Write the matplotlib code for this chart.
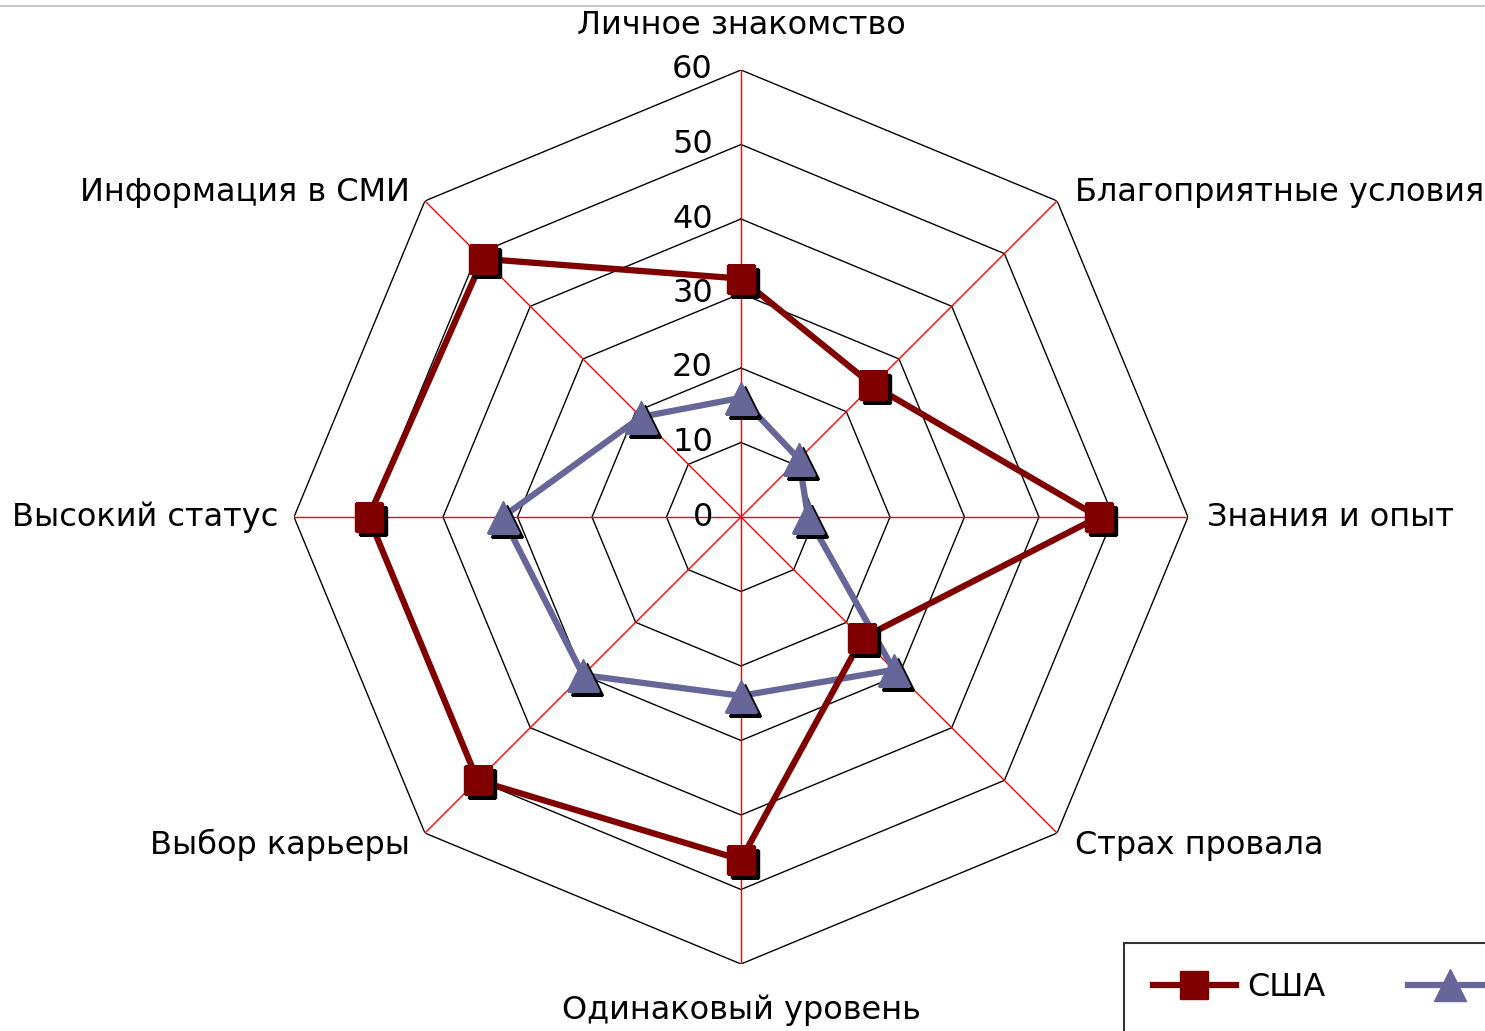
import numpy as np
import matplotlib
matplotlib.use("Agg")
import matplotlib.pyplot as plt
from matplotlib import transforms
from matplotlib.lines import Line2D

categories = ["Личное знакомство", "Благоприятные условия", "Знания и опыт",
              "Страх провала", "Одинаковый уровень", "Выбор карьеры",
              "Высокий статус", "Информация в СМИ"]
usa = [32, 25, 48, 23, 46, 50, 50, 49]
other = [16, 11, 9, 29, 24, 30, 32, 19]
series_names = ["США", "Россия"]
rings = [10, 20, 30, 40, 50, 60]
tick_labels = [0, 10, 20, 30, 40, 50, 60]

# label offsets in pixels from the outer vertex, plus alignment
label_pos = [(0, 45, "center"), (18, 8, "left"), (19, 0, "left"), (18, -12, "left"),
             (0, -46, "center"), (-15, -12, "right"), (-16, 0, "right"), (-15, 8, "right")]

plt.rcParams['font.family'] = ['DejaVu Sans']
fs = 23

fig = plt.figure(figsize=(14.85, 10.31), dpi=100)
ax = fig.add_axes([294/1485, 67/1031, 894/1485, 894/1031], projection='polar')
ax.set_theta_zero_location('N')
ax.set_theta_direction(-1)
ax.set_ylim(0, 60)
ax.set_xticks([])
ax.set_yticks([])
ax.grid(False)
ax.spines['polar'].set_visible(False)

n = len(categories)
theta = np.arange(n) * 2 * np.pi / n
theta_c = np.append(theta, theta[0])

# octagon grid
for r in rings:
    ax.plot(theta_c, [r] * (n + 1), color='black', lw=1.0, zorder=1)
# red spokes
for t in theta:
    ax.plot([t, t], [0, 60], color='red', lw=1.0, zorder=1)

# radial tick labels
for r in tick_labels:
    ax.annotate(str(r), xy=(0, r), xytext=(-28, 0), textcoords='offset pixels',
                ha='right', va='center', fontsize=fs, annotation_clip=False)

# category labels
for t, lab, (dx, dy, ha) in zip(theta, categories, label_pos):
    ax.annotate(lab, xy=(t, 60), xytext=(dx, dy), textcoords='offset pixels',
                ha=ha, va='center', fontsize=fs, annotation_clip=False)

shadow = transforms.offset_copy(ax.transData, fig=fig, x=4, y=-4, units='dots')

usa_c = np.append(usa, usa[0])
oth_c = np.append(other, other[0])

ax.plot(theta_c, oth_c, color='#666699', lw=4.5, zorder=3)
ax.plot(theta, other, linestyle='none', marker='^', ms=23, color='black',
        transform=shadow, zorder=4)
ax.plot(theta, other, linestyle='none', marker='^', ms=23, color='#666699', zorder=5)

ax.plot(theta_c, usa_c, color='#800000', lw=4.5, zorder=6)
ax.plot(theta, usa, linestyle='none', marker='s', ms=20, color='black',
        transform=shadow, zorder=7)
ax.plot(theta, usa, linestyle='none', marker='s', ms=20, color='#800000', zorder=8)

handles = [Line2D([], [], color='#800000', lw=4.5, marker='s', ms=20),
           Line2D([], [], color='#666699', lw=4.5, marker='^', ms=23)]
leg = fig.legend(handles, series_names, loc='upper left',
                 bbox_to_anchor=(1124/1485, 1 - 943/1031), ncol=2,
                 fontsize=fs, frameon=True, fancybox=False, borderaxespad=0,
                 handlelength=2.6, handletextpad=0.35, columnspacing=2.6,
                 borderpad=0.9)
leg.get_frame().set_edgecolor('black')
leg.get_frame().set_linewidth(1.5)

fig.add_artist(Line2D([0, 1], [1 - 6/1031] * 2, color='#c8c8c8', lw=1.5,
                      transform=fig.transFigure))

fig.savefig('out.png', dpi=100)
